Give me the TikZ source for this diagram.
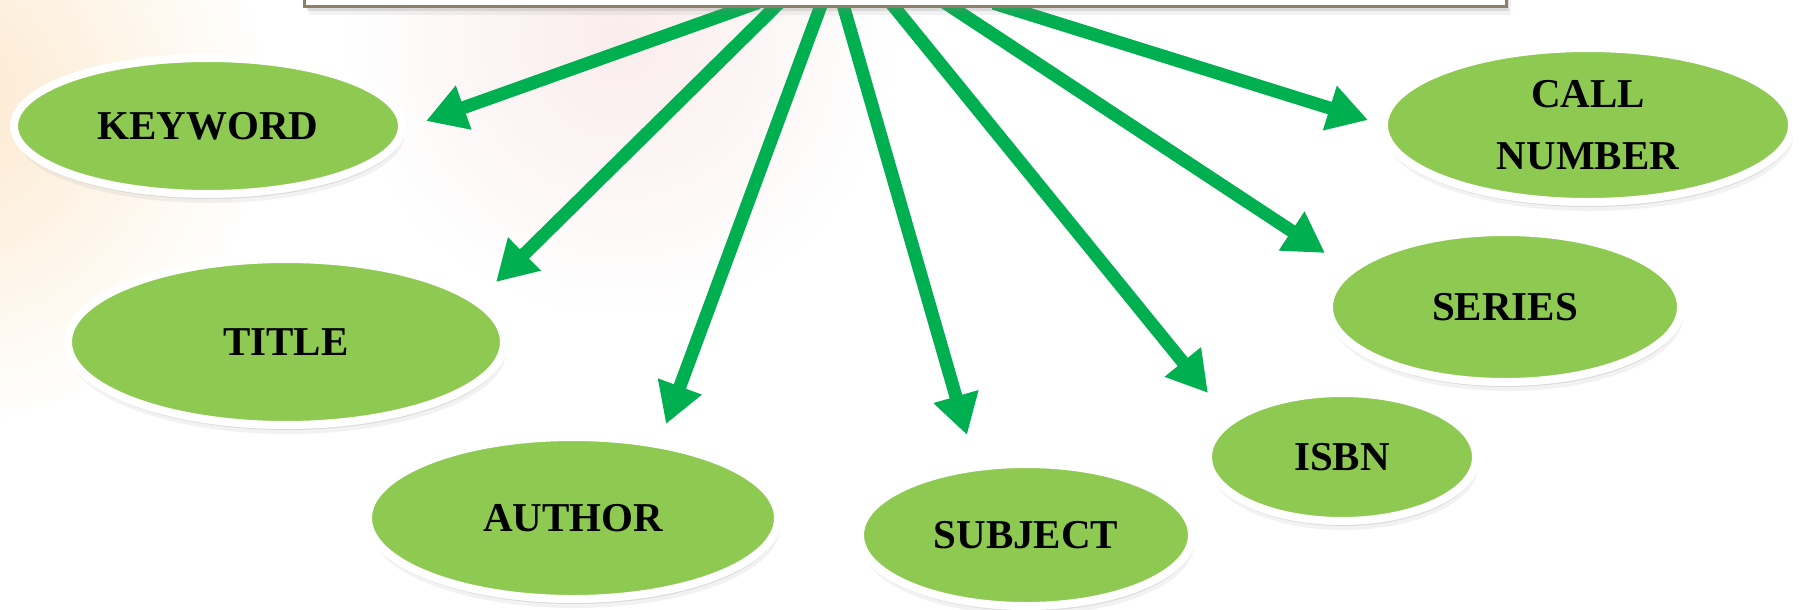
\documentclass[tikz,border=0pt]{standalone}
\usepackage{fontspec}
\setmainfont{Liberation Serif}
\usetikzlibrary{shapes.geometric, arrows.meta, shadows}

\definecolor{arrowgreen}{RGB}{0, 176, 80}
\definecolor{leafgreen}{RGB}{142, 201, 82}
\definecolor{leafdark}{RGB}{96, 152, 46}
\definecolor{boxedge}{RGB}{140, 128, 104}
\definecolor{peach}{RGB}{252, 232, 205}
\definecolor{blush}{RGB}{250, 236, 236}

\pgfdeclareradialshading{leafshade}{\pgfpoint{0bp}{3bp}}{color(0bp)=(leafgreen); color(44bp)=(leafgreen); color(50bp)=(leafdark); color(72bp)=(leafdark)}
\pgfdeclarelayer{back}
\pgfsetlayers{back,main}

\tikzset{
  field/.style={ellipse, draw=white, line width=8pt, shade, shading=leafshade, inner sep=0pt,
    drop shadow={shadow xshift=1pt, shadow yshift=-5pt, opacity=0.2},
    drop shadow={shadow xshift=2pt, shadow yshift=-9pt, opacity=0.1},
    font=\fontsize{41}{62}\selectfont\bfseries, align=center, text=black},
  link/.style={draw=arrowgreen, line width=13pt, -{Triangle[length=40pt, width=44pt]}, shorten <=-16pt},
  querybox/.style={draw=boxedge, line width=3pt, fill=white, anchor=south,
    drop shadow={shadow xshift=3pt, shadow yshift=-5pt, opacity=0.2},
    drop shadow={shadow xshift=5pt, shadow yshift=-9pt, opacity=0.1}}
}

\begin{document}
\begin{tikzpicture}[x=1pt, y=-1pt]
  \useasboundingbox (0,0) rectangle (1806,610);

  % search box (cut off at the top)
  \node[querybox, minimum width=1202pt, minimum height=60pt] (query) at (905,8) {};

  % arrow tips
  \coordinate (keyword-tip) at (426,121);
  \coordinate (title-tip) at (496,282);
  \coordinate (author-tip) at (666,424);
  \coordinate (subject-tip) at (967,435);
  \coordinate (isbn-tip) at (1208,393);
  \coordinate (series-tip) at (1325,253);
  \coordinate (callnum-tip) at (1368,120);

  \begin{pgfonlayer}{back}
    % faint backdrop
    \fill[white] (0,0) rectangle (1806,610);
    \shade[inner color=peach, outer color=white] (-60,100) circle (330pt);
    \shade[inner color=blush, outer color=white] (620,40) circle (280pt);

    % arrows from the box
    \draw[link] ([xshift=-162pt]query.south) -- (keyword-tip);
    \draw[link] ([xshift=-131pt]query.south) -- (title-tip);
    \draw[link] ([xshift=-85pt]query.south) -- (author-tip);
    \draw[link] ([xshift=-61pt]query.south) -- (subject-tip);
    \draw[link] ([xshift=-10pt]query.south) -- (isbn-tip);
    \draw[link] ([xshift=48pt]query.south) -- (series-tip);
    \draw[link] ([xshift=104pt]query.south) -- (callnum-tip);
  \end{pgfonlayer}

  % search fields
  \node[field, minimum width=388pt, minimum height=136pt] (keyword) at (208,126) {KEYWORD};
  \node[field, minimum width=436pt, minimum height=166pt] (title) at (286,342) {TITLE};
  \node[field, minimum width=410pt, minimum height=162pt] (author) at (573,518) {AUTHOR};
  \node[field, minimum width=332pt, minimum height=142pt] (subject) at (1026,535) {SUBJECT};
  \node[field, minimum width=268pt, minimum height=128pt] (isbn) at (1342,457) {ISBN};
  \node[field, minimum width=352pt, minimum height=150pt] (series) at (1505,307) {SERIES};
  \node[field, minimum width=408pt, minimum height=154pt] (callnum) at (1588,125) {CALL\\NUMBER};
\end{tikzpicture}
\end{document}
